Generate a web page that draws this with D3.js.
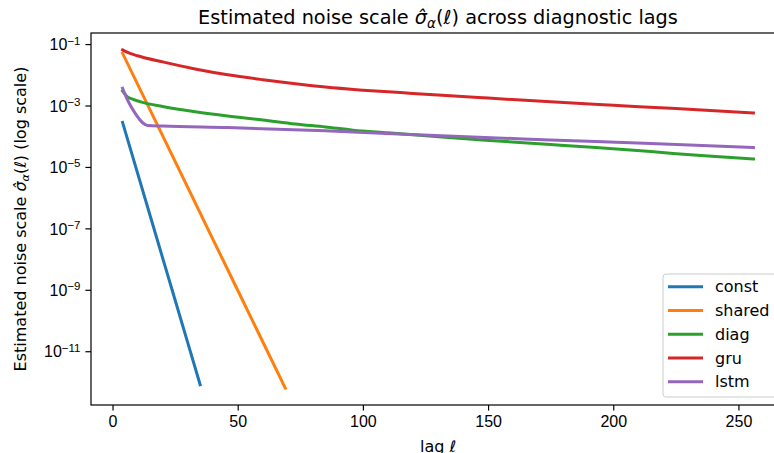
<!DOCTYPE html>
<meta charset="utf-8">
<style>
    body { margin: 0; background: #fff; }
    svg { font-family: "DejaVu Sans", sans-serif; display: block; }
    .axis path, .axis line { stroke: #000; stroke-width: 1.2; }
    .axis text { font-size: 16px; fill: #000; }
    .series { fill: none; stroke-width: 3; stroke-linejoin: round; stroke-linecap: square; }
</style>
<svg width="774" height="453"></svg>
<script src="https://cdn.jsdelivr.net/npm/d3@7"></script>
<script>

    // values
    var names = ["const", "shared", "diag", "gru", "lstm"];
    var colors = ["#1f77b4", "#ff7f0e", "#2ca02c", "#d62728", "#9467bd"];

    var constLags = [4, 10, 20, 30, 35];
    var constVals = [2.82e-4, 6.31e-6, 1.10e-8, 1.95e-11, 8.13e-13];

    var sharedLags = [4, 20, 40, 60, 69];
    var sharedVals = [5.01e-2, 1.05e-4, 4.57e-8, 2.04e-11, 6.31e-13];

    var diagLags = [4, 6, 8, 12, 20, 33, 46, 60, 73, 85, 96, 110, 129, 149, 175, 193, 215, 235, 256];
    var diagVals = [2.95e-3, 1.91e-3, 1.62e-3, 1.26e-3, 9.33e-4, 6.31e-4, 4.57e-4, 3.39e-4, 2.51e-4, 2.00e-4,
                    1.58e-4, 1.29e-4, 9.77e-5, 7.41e-5, 5.37e-5, 4.27e-5, 3.16e-5, 2.34e-5, 1.82e-5];

    var gruLags = [4, 6, 10, 20, 33, 46, 60, 73, 85, 100, 115, 130, 150, 175, 200, 225, 256];
    var gruVals = [6.46e-2, 5.37e-2, 4.17e-2, 2.63e-2, 1.55e-2, 1.00e-2, 6.92e-3, 5.13e-3, 3.98e-3, 3.16e-3,
                   2.63e-3, 2.19e-3, 1.74e-3, 1.32e-3, 1.02e-3, 7.94e-4, 5.75e-4];

    var lstmLags = [4, 6, 9, 12, 14, 20, 46, 85, 129, 175, 215, 256];
    var lstmVals = [3.63e-3, 1.51e-3, 5.62e-4, 2.75e-4, 2.24e-4, 2.14e-4, 1.91e-4, 1.51e-4, 1.05e-4, 7.59e-5,
                    5.75e-5, 4.27e-5];

    var xTicks = [0, 50, 100, 150, 200, 250];
    var yTickExps = [-1, -3, -5, -7, -9, -11];

    var seriesLags = [constLags, sharedLags, diagLags, gruLags, lstmLags];
    var seriesVals = [constVals, sharedVals, diagVals, gruVals, lstmVals];

    var svg = d3.select("svg"),
        margin = {top: 33, right: -11, bottom: 48, left: 91},
        width = +svg.attr("width") - margin.left - margin.right,
        height = +svg.attr("height") - margin.top - margin.bottom;

    var series = names.map(function(n, i) {
        return {
            name: n,
            color: colors[i],
            points: seriesLags[i].map(function(l, j) { return {x: l, y: seriesVals[i][j]}; })
        };
    });

    // matplotlib style 5% margins (log space for y)
    var allX = d3.merge(seriesLags), allY = d3.merge(seriesVals);
    var xmin = d3.min(allX), xmax = d3.max(allX), xpad = (xmax - xmin) * 0.05;
    var lmin = Math.log10(d3.min(allY)), lmax = Math.log10(d3.max(allY)), lpad = (lmax - lmin) * 0.05;

    var x = d3.scaleLinear().domain([xmin - xpad, xmax + xpad]).range([0, width]);
    var y = d3.scaleLog().domain([Math.pow(10, lmin - lpad), Math.pow(10, lmax + lpad)]).range([height, 0]);

    svg.append("rect").attr("width", 774).attr("height", 453).attr("fill", "#fff");

    var g = svg.append("g")
        .attr("transform", "translate(" + margin.left + "," + margin.top + ")");

    var line = d3.line()
        .x(function(d) { return x(d.x); })
        .y(function(d) { return y(d.y); })
        .curve(d3.curveMonotoneX);

    g.selectAll(".series")
        .data(series)
        .enter().append("path")
        .attr("class", "series")
        .attr("stroke", function(d) { return d.color; })
        .attr("d", function(d) { return line(d.points); });

    // axes
    g.append("g")
        .attr("class", "axis axis--x")
        .attr("transform", "translate(0," + height + ")")
        .call(d3.axisBottom(x).tickValues(xTicks).tickSize(5.6).tickPadding(5).tickSizeOuter(0))
        .call(function(a) { a.select(".domain").remove(); });

    var yAxis = g.append("g")
        .attr("class", "axis axis--y")
        .call(d3.axisLeft(y).tickValues(yTickExps.map(function(e) { return Math.pow(10, e); }))
            .tickSize(5.6).tickPadding(5).tickFormat(""));
    yAxis.select(".domain").remove();

    yAxis.selectAll(".tick").each(function(d, i) {
        var t = d3.select(this).append("text")
            .attr("x", -10.5)
            .attr("dy", "0.36em")
            .attr("text-anchor", "end");
        t.append("tspan").text("10");
        t.append("tspan")
            .attr("dy", "-0.5em")
            .attr("font-size", "11.5px")
            .text("\u2212" + Math.abs(yTickExps[i]));
    });

    // spines
    g.append("rect")
        .attr("width", width)
        .attr("height", height)
        .attr("fill", "none")
        .attr("stroke", "#000")
        .attr("stroke-width", 1.2);

    // title and axis labels
    var title = svg.append("text")
        .attr("x", margin.left + width / 2)
        .attr("y", 24)
        .attr("text-anchor", "middle")
        .attr("font-size", "19.3px");
    title.append("tspan").text("Estimated noise scale ");
    title.append("tspan").attr("font-style", "italic").text("\u03c3\u0302");
    title.append("tspan").attr("font-style", "italic").attr("font-size", "13.5px").attr("dy", "3.5").text("\u03b1");
    title.append("tspan").attr("dy", "-3.5").text("(");
    title.append("tspan").attr("font-style", "italic").text("\u2113");
    title.append("tspan").text(") across diagnostic lags");

    var ylab = svg.append("text")
        .attr("transform", "translate(26," + (margin.top + height / 2) + ") rotate(-90)")
        .attr("text-anchor", "middle")
        .attr("font-size", "16px");
    ylab.append("tspan").text("Estimated noise scale ");
    ylab.append("tspan").attr("font-style", "italic").text("\u03c3\u0302");
    ylab.append("tspan").attr("font-style", "italic").attr("font-size", "11.2px").attr("dy", "3").text("\u03b1");
    ylab.append("tspan").attr("dy", "-3").text("(");
    ylab.append("tspan").attr("font-style", "italic").text("\u2113");
    ylab.append("tspan").text(") (log scale)");

    var xlab = svg.append("text")
        .attr("x", margin.left + width / 2)
        .attr("y", 452)
        .attr("text-anchor", "middle")
        .attr("font-size", "16px");
    xlab.append("tspan").text("lag ");
    xlab.append("tspan").attr("font-style", "italic").text("\u2113");

    // legend
    var leg = svg.append("g").attr("transform", "translate(663,274)");
    leg.append("rect")
        .attr("width", 115)
        .attr("height", 123)
        .attr("rx", 3)
        .attr("fill", "#fff")
        .attr("fill-opacity", 0.8)
        .attr("stroke", "#ccc")
        .attr("stroke-width", 1);

    var items = leg.selectAll(".item")
        .data(series)
        .enter().append("g")
        .attr("class", "item")
        .attr("transform", function(d, i) { return "translate(0," + (12.7 + i * 23.75) + ")"; });
    items.append("line")
        .attr("x1", 5).attr("x2", 40)
        .attr("stroke", function(d) { return d.color; })
        .attr("stroke-width", 3);
    items.append("text")
        .attr("x", 52)
        .attr("dy", "0.35em")
        .attr("font-size", "16px")
        .text(function(d) { return d.name; });
</script>
